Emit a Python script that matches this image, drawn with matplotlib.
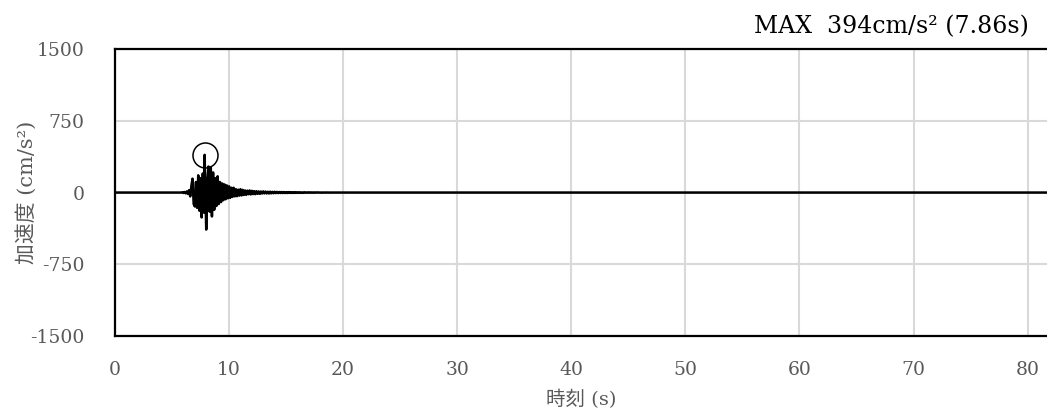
import numpy as np
import matplotlib
matplotlib.use("Agg")
import matplotlib.pyplot as plt

plt.rcParams['font.family'] = ['DejaVu Serif', 'Noto Sans CJK JP']
plt.rcParams['axes.unicode_minus'] = False

# acceleration record (cm/s^2), 0.1 s steps from 5.8 s
t_start = 5.8
acc = [0, 3, -4, 6, -8, 12, -15, 25, -40, 70,
       145, -120, -145, 110, -160, 180, -190, 150, -260, 200,
       -210, 394, -387, 120, 272, -200, 260, -250, 210, -180,
       150, -140, 170, -120, 110, -100, 95, -80, 85, -70,
       75, -60, 65, -55, 50, -45, 50, -40, 35, -38,
       30, -32, 35, -30, 28, -25, 22, -24, 20, -18,
       22, -20, 18, -16, 15, -17, 14, -13, 12, -14,
       11, -10, 12, -9, 10, -9, 8, -10, 9, -8,
       7, -7, 8, -6, 7, -6, 6, -5, 6, -5,
       5, -5, 4, -5, 5, -4, 4, -4, 3, -4,
       4, -3, 3, -3, 3, -3, 2, -3, 3, -2,
       2, -2, 3, -2, 2, -2, 2, -2, 2, -1,
       2, -1, 1, -2, 1, -1, 1, -1, 1, -1,
       1, -1, 0]
peak_t = 7.86
peak_acc = 394
t_end = 81.7

times = list(np.round(t_start + 0.1 * np.arange(len(acc)), 2))
times[times.index(7.9)] = peak_t
t_all = [0.0] + times + [t_end]
a_all = [0] + acc + [0]

xticks = [0, 10, 20, 30, 40, 50, 60, 70, 80]
yticks = [-1500, -750, 0, 750, 1500]

fig = plt.figure(figsize=(10.47, 4.17), dpi=100)
ax = fig.add_axes([0.1098, 0.194, 0.8902, 0.6885])

ax.plot(t_all, a_all, color="black", lw=1.8, zorder=3)
ax.plot([peak_t], [peak_acc], marker="o", ms=18, mfc="none", mec="black", mew=1.1, zorder=4)

ax.set_xlim(0, t_end)
ax.set_ylim(-1500, 1500)
ax.set_xticks(xticks)
ax.set_yticks(yticks)
ax.grid(True, color="#d9d9d9", lw=1.5)
ax.set_axisbelow(True)
ax.tick_params(length=0, labelsize=13.5, labelcolor="#595959")
ax.tick_params(axis="y", pad=22)
ax.tick_params(axis="x", pad=18)

for s in ["top", "bottom", "left"]:
    ax.spines[s].set_linewidth(1.6)
    ax.spines[s].set_color("black")
ax.spines["right"].set_visible(False)

ax.set_ylabel("加速度 (cm/s²)", fontsize=15, color="#595959")
ax.yaxis.set_label_coords(-0.084, 0.5)
ax.set_xlabel("時刻 (s)", fontsize=14, color="#595959", labelpad=8)

fig.text(0.983, 0.935, "MAX  394cm/s² (7.86s)", ha="right", va="center", fontsize=17, color="black")

fig.savefig("out.png", dpi=100)
